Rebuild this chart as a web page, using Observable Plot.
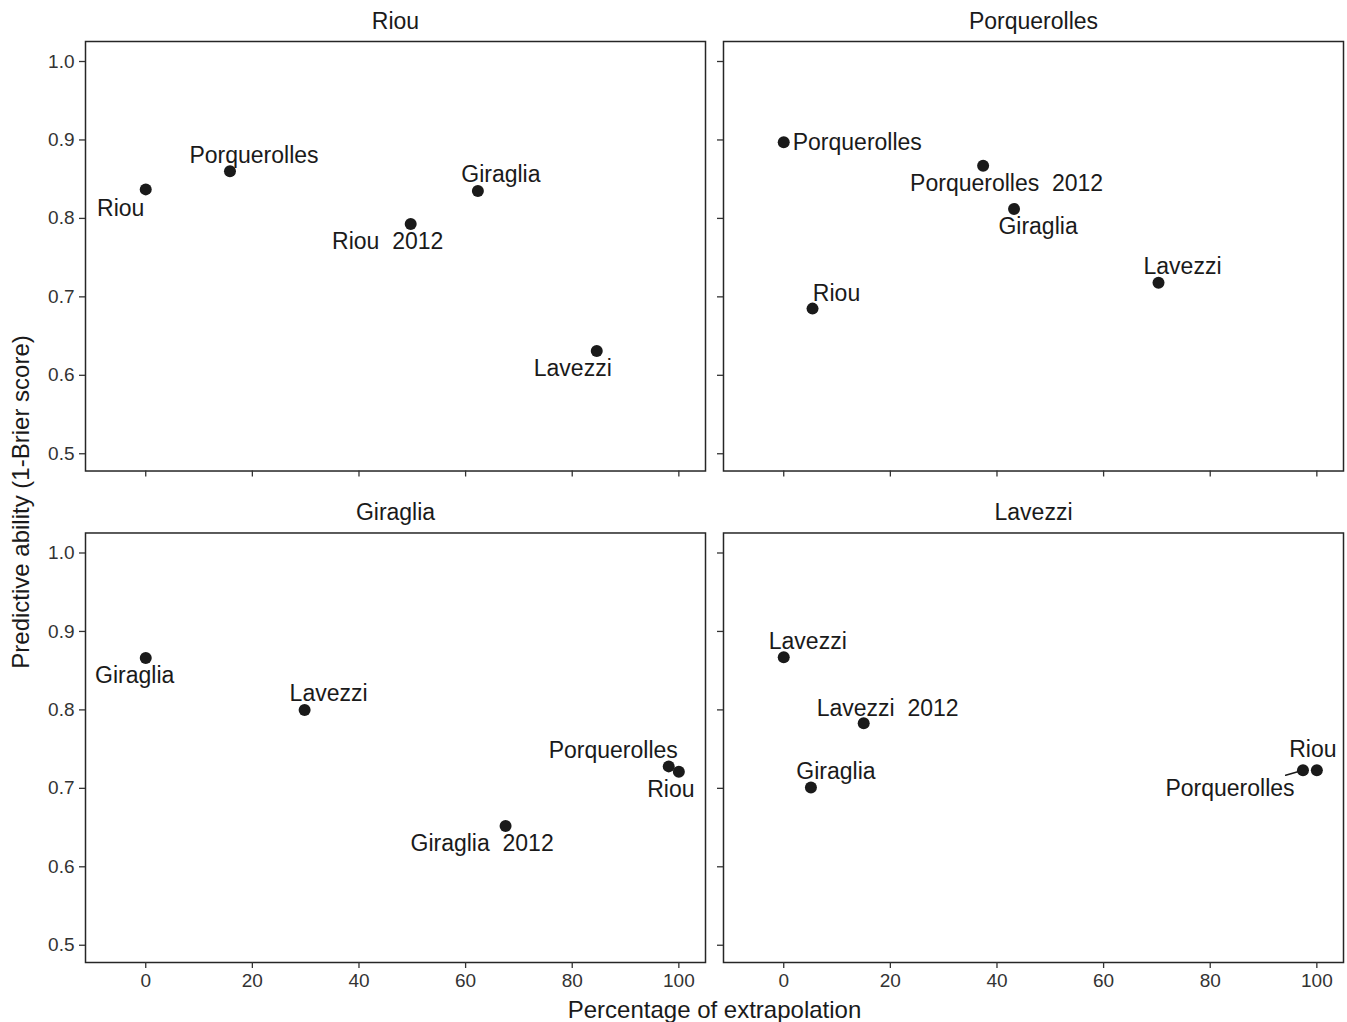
<!DOCTYPE html>
<html>
<head>
<meta charset="utf-8">
<script src="https://cdn.jsdelivr.net/npm/d3@7"></script>
<script src="https://cdn.jsdelivr.net/npm/@observablehq/plot@0.6"></script>
<style>
  body { margin: 0; background: #fff; }
  #chart svg text { white-space: pre; }
</style>
</head>
<body>
<div id="chart"></div>
<script>
// ---- data ----
const panels = ["Riou", "Porquerolles", "Giraglia", "Lavezzi"];
const panelOf = [
  "Riou", "Riou", "Riou", "Riou", "Riou",
  "Porquerolles", "Porquerolles", "Porquerolles", "Porquerolles", "Porquerolles",
  "Giraglia", "Giraglia", "Giraglia", "Giraglia", "Giraglia",
  "Lavezzi", "Lavezzi", "Lavezzi", "Lavezzi", "Lavezzi"
];
const site = [
  "Riou", "Porquerolles", "Riou  2012", "Giraglia", "Lavezzi",
  "Porquerolles", "Porquerolles  2012", "Giraglia", "Lavezzi", "Riou",
  "Giraglia", "Lavezzi", "Porquerolles", "Riou", "Giraglia  2012",
  "Lavezzi", "Lavezzi  2012", "Giraglia", "Porquerolles", "Riou"
];
const extrapolation = [
  0, 15.8, 49.7, 62.3, 84.6,
  0, 37.4, 43.2, 70.3, 5.4,
  0, 29.8, 98.1, 100, 67.5,
  0, 15.0, 5.1, 97.4, 100
];
const predictiveAbility = [
  0.837, 0.860, 0.793, 0.835, 0.631,
  0.897, 0.867, 0.812, 0.718, 0.685,
  0.866, 0.800, 0.728, 0.721, 0.652,
  0.867, 0.783, 0.701, 0.723, 0.723
];
const xTicks = [0, 20, 40, 60, 80, 100];
const yTicks = [0.5, 0.6, 0.7, 0.8, 0.9, 1.0];

// ---- label placement (pixel nudges, as a repel layout would give) ----
const labelNudge = [
  [-25, 19], [24, -16], [-23, 18], [23, -16], [-24, 18],
  [9, 0], [23.5, 18], [24, 18], [24, -16], [24, -15],
  [-11, 18], [24, -16], [-55.5, -16], [-8, 18], [-23.5, 18],
  [24, -16], [24, -15], [25, -16], [-73, 18], [-4, -21]
];
const labelAnchor = site.map((s, i) => i === 5 ? "start" : "middle");
const segmentRows = [18];

// ---- build table ----
const rows = site.map((s, i) => {
  const p = panels.indexOf(panelOf[i]);
  return {panel: panelOf[i], site: s, x: extrapolation[i], y: predictiveAbility[i], col: p % 2, row: Math.floor(p / 2)};
});

const FONT = "'Liberation Sans', Arial, Helvetica, sans-serif";
const INK = "#1a1a1a";

const labelMarks = rows.map((d, i) => Plot.text([d], {
  x: "x", y: "y", fx: "col", fy: "row", text: "site",
  dx: labelNudge[i][0], dy: labelNudge[i][1], textAnchor: labelAnchor[i],
  lineAnchor: "middle", fontSize: 23, fill: INK
}));

const chart = Plot.plot({
  width: 1347,
  height: 1022,
  marginLeft: 85,
  marginRight: 4,
  marginTop: 41,
  marginBottom: 60,
  style: {fontFamily: FONT, background: "#fff", overflow: "visible"},
  fx: {domain: [0, 1], paddingInner: 0.0282, paddingOuter: 0, round: false, axis: null},
  fy: {domain: [0, 1], paddingInner: 0.1261, paddingOuter: 0, round: false, axis: null},
  x: {domain: [-11.3, 105]},
  y: {domain: [0.478, 1.0255]},
  marks: [
    Plot.frame({stroke: "#262626", strokeWidth: 1.5}),
    // tick marks on every panel
    Plot.axisY({ticks: yTicks, tickSize: 6, fill: "none", stroke: "#333", strokeWidth: 1.3, facetAnchor: null, label: null}),
    Plot.axisX({ticks: xTicks, tickSize: 6, fill: "none", stroke: "#333", strokeWidth: 1.3, facetAnchor: null, label: null}),
    // tick labels only on outer panels
    Plot.axisY({ticks: yTicks, tickSize: 6, tickPadding: 5, stroke: "none", fill: "#333", fontSize: 19,
      tickFormat: d3.format(".1f"), facetAnchor: "left", label: null}),
    Plot.axisX({ticks: xTicks, tickSize: 6, tickPadding: 5, stroke: "none", fill: "#333", fontSize: 19,
      facetAnchor: "bottom", label: null}),
    // strip titles
    Plot.text(panels, {fx: (d, i) => i % 2, fy: (d, i) => Math.floor(i / 2), text: d => d,
      frameAnchor: "top", lineAnchor: "middle", dy: -20, fontSize: 23, fill: INK}),
    // repel segment
    Plot.vector(rows.filter((d, i) => segmentRows.includes(i)), {
      x: "x", y: "y", fx: "col", fy: "row", length: 18, rotate: 254, anchor: "start",
      stroke: INK, strokeWidth: 1.5,
      shape: {draw(context, l) { context.moveTo(0, 0); context.lineTo(0, -l); }}
    }),
    Plot.dot(rows, {x: "x", y: "y", fx: "col", fy: "row", r: 6, fill: INK, stroke: null}),
    ...labelMarks,
    // axis titles
    Plot.text(["Percentage of extrapolation"], {facet: "super", frameAnchor: "bottom",
      lineAnchor: "middle", textAnchor: "middle", dy: 48, fontSize: 24, fill: INK}),
    Plot.text(["Predictive ability (1-Brier score)"], {facet: "super", frameAnchor: "left",
      lineAnchor: "middle", textAnchor: "middle", dx: -64, rotate: -90, fontSize: 24, fill: INK})
  ]
});
document.getElementById("chart").appendChild(chart);
</script>
</body>
</html>
